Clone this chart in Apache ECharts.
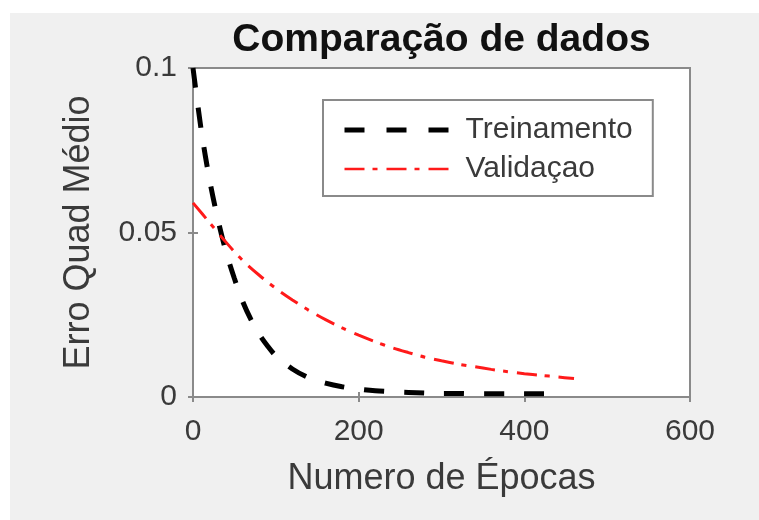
<!DOCTYPE html>
<html>
<head>
<meta charset="utf-8">
<script src="https://cdn.jsdelivr.net/npm/echarts@6/dist/echarts.min.js"></script>
<style>
html,body{margin:0;padding:0;background:#fff;}
#c{width:759px;height:520px;}
</style>
</head>
<body>
<div id="c"></div>
<script>
var titleText = 'Comparação de dados';
var xName = 'Numero de Épocas';
var yName = 'Erro Quad Médio';
var seriesNames = ['Treinamento', 'Validaçao'];

var trainEpochs = [0,10,20,30,40,50,60,70,80,90,100,120,140,160,180,200,220,240,260,280,300,320,340,360,380,400,420,435];
var trainValues = [0.100,0.081,0.066,0.054,0.044,0.036,0.029,0.0235,0.019,0.0155,0.0125,0.0085,0.0058,0.0042,0.0031,0.0024,0.0019,0.0016,0.0014,0.0012,0.0011,0.0011,0.0010,0.0010,0.0010,0.0010,0.0010,0.0010];

var valEpochs = [0,20,40,60,80,100,120,140,160,180,200,220,240,260,280,300,320,340,360,380,400,420,440,460];
var valValues = [0.059,0.053,0.047,0.0415,0.037,0.033,0.0295,0.0263,0.0235,0.021,0.0188,0.0168,0.015,0.0135,0.0121,0.0110,0.0100,0.0092,0.0084,0.0077,0.0071,0.0066,0.0061,0.0056];

var FONT = '"Liberation Sans", Arial, sans-serif';
function pairs(xs, ys){ return xs.map(function(x,i){ return [x, ys[i]]; }); }

var chart = echarts.init(document.getElementById('c'));
var axisCol = '#8a8a8a';
var txtCol = '#3a3a3a';
chart.setOption({
  backgroundColor: '#fff',
  animation: false,
  graphic: [
    {type:'rect', z:-100, silent:true, shape:{x:10, y:13, width:749, height:507}, style:{fill:'#f0f0f0'}},
    {type:'text', z:10, x:441.5, y:40, style:{text:titleText, textAlign:'center', textVerticalAlign:'middle', font:'bold 39px ' + FONT, fill:'#111'}}
  ],
  grid: {left:193, right:69, top:68, bottom:123, show:true, backgroundColor:'#fff', borderColor:axisCol, borderWidth:2},
  legend: {
    orient:'vertical', left:323, top:100,
    backgroundColor:'#fff', borderColor:axisCol, borderWidth:2, borderRadius:0,
    padding:[15,20,12,19], itemGap:9, itemWidth:110, itemHeight:14,
    itemStyle:{opacity:0, borderWidth:0},
    textStyle:{fontSize:30, color:txtCol, fontFamily:FONT, padding:[0,0,0,6]},
    data: [
      {name:seriesNames[0], lineStyle:{width:5, type:[20,22], color:'#000'}},
      {name:seriesNames[1], lineStyle:{width:2.5, type:[20,8,5,9], color:'#ff1a1a'}}
    ]
  },
  xAxis: [
    {type:'value', min:0, max:600, interval:200, position:'bottom',
     name:xName, nameLocation:'middle', nameGap:64,
     nameTextStyle:{fontSize:36, color:txtCol, fontFamily:FONT},
     axisLine:{show:true, lineStyle:{color:axisCol, width:2}},
     axisTick:{show:true, inside:true, length:5, lineStyle:{color:axisCol, width:2}},
     axisLabel:{fontSize:30, color:txtCol, fontFamily:FONT, margin:20},
     splitLine:{show:false}},
    {type:'value', min:0, max:600, interval:200, position:'top',
     axisLine:{show:true, lineStyle:{color:axisCol, width:2}},
     axisTick:{show:true, inside:true, length:5, lineStyle:{color:axisCol, width:2}},
     axisLabel:{show:false}, splitLine:{show:false}}
  ],
  yAxis: [
    {type:'value', min:0, max:0.1, interval:0.05, position:'left',
     name:yName, nameLocation:'middle', nameGap:96,
     nameTextStyle:{fontSize:36, color:txtCol, fontFamily:FONT},
     axisLine:{show:true, lineStyle:{color:axisCol, width:2}},
     axisTick:{show:true, inside:true, length:5, lineStyle:{color:axisCol, width:2}},
     axisLabel:{fontSize:30, color:txtCol, fontFamily:FONT, margin:16},
     splitLine:{show:false}},
    {type:'value', min:0, max:0.1, interval:0.05, position:'right',
     axisLine:{show:true, lineStyle:{color:axisCol, width:2}},
     axisTick:{show:true, inside:true, length:5, lineStyle:{color:axisCol, width:2}},
     axisLabel:{show:false}, splitLine:{show:false}}
  ],
  series: [
    {name:seriesNames[0], type:'line', xAxisIndex:0, yAxisIndex:0, symbol:'none', smooth:0.3,
     data: pairs(trainEpochs, trainValues),
     lineStyle:{color:'#000', width:5, type:[20,20], cap:'butt'}, itemStyle:{color:'#000'}},
    {name:seriesNames[1], type:'line', xAxisIndex:0, yAxisIndex:0, symbol:'none', smooth:0.3,
     data: pairs(valEpochs, valValues),
     lineStyle:{color:'#ff1a1a', width:3, type:[20,8,5,9], cap:'butt'}, itemStyle:{color:'#ff1a1a'}}
  ]
});
</script>
</body>
</html>
